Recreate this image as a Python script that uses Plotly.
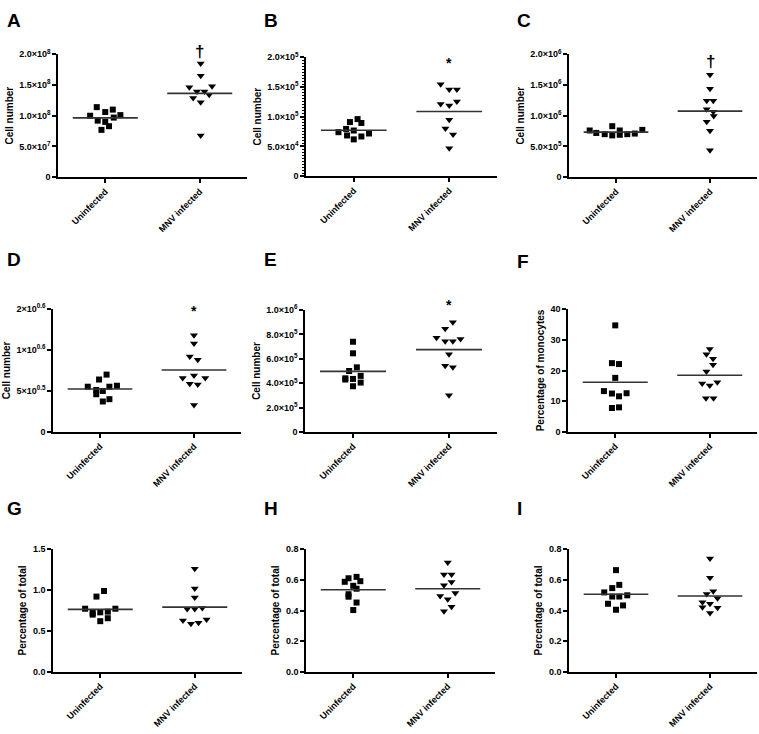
import plotly.graph_objects as go

W, H = 759, 734

# ---------------- data ----------------
categories = ["Uninfected", "MNV infected"]

A_uninf = [1.14e8, 1.10e8, 1.00e8, 1.06e8, 1.01e8, 0.97e8, 0.92e8, 0.90e8, 0.83e8, 0.77e8]
A_mnv = [1.85e8, 1.65e8, 1.465e8, 1.48e8, 1.395e8, 1.395e8, 1.34e8, 1.29e8, 1.22e8, 0.68e8]
A_uninf_dx = [-0.09, 0.08, -0.16, 0.0, 0.16, 0.09, -0.08, 0.0, 0.04, -0.04]
A_mnv_dx = [0.01, 0.01, -0.11, 0.13, -0.03, 0.05, 0.10, -0.07, 0.01, 0.01]
A_means = [0.966e8, 1.365e8]

B_uninf = [0.96e5, 0.91e5, 0.895e5, 0.795e5, 0.768e5, 0.74e5, 0.718e5, 0.685e5, 0.668e5, 0.619e5]
B_mnv = [1.547e5, 1.459e5, 1.459e5, 1.215e5, 1.188e5, 1.254e5, 0.95e5, 0.80e5, 0.70e5, 0.47e5]
B_uninf_dx = [0.04, -0.04, 0.08, -0.08, 0.0, -0.16, 0.16, -0.07, 0.08, 0.0]
B_mnv_dx = [-0.09, 0.0, 0.08, -0.09, 0.0, 0.08, 0.0, -0.04, 0.04, 0.0]
B_means = [0.773e5, 1.088e5]

C_uninf = [0.76e6, 0.72e6, 0.70e6, 0.83e6, 0.68e6, 0.76e6, 0.70e6, 0.71e6, 0.69e6, 0.77e6]
C_mnv = [1.668e6, 1.438e6, 1.246e6, 1.246e6, 1.107e6, 1.064e6, 0.995e6, 0.904e6, 0.754e6, 0.438e6]
C_uninf_dx = [-0.28, -0.21, -0.12, -0.04, -0.04, 0.04, 0.12, 0.20, 0.04, 0.28]
C_mnv_dx = [0.0, 0.0, -0.035, 0.035, -0.035, 0.035, 0.04, -0.035, 0.0, 0.0]
C_means = [0.733e6, 1.075e6]

D_uninf = [0.70, 0.64, 0.552, 0.564, 0.552, 0.512, 0.50, 0.46, 0.40, 0.372]
D_mnv = [1.18, 1.08, 0.92, 0.88, 0.66, 0.688, 0.66, 0.588, 0.58, 0.328]
D_uninf_dx = [0.07, -0.01, -0.13, 0.18, 0.10, -0.04, 0.03, -0.04, 0.10, 0.03]
D_mnv_dx = [0.0, 0.0, -0.045, 0.04, -0.12, 0.0, 0.12, -0.045, 0.04, 0.0]
D_means = [0.524, 0.756]

E_uninf = [7.4e5, 6.45e5, 5.3e5, 5.0e5, 4.4e5, 4.35e5, 4.6e5, 4.3e5, 4.05e5, 3.75e5]
E_mnv = [9.0e5, 8.47e5, 7.72e5, 7.45e5, 7.45e5, 7.63e5, 6.37e5, 5.43e5, 5.3e5, 3.01e5]
E_uninf_dx = [0.0, 0.0, 0.04, -0.04, -0.08, 0.0, 0.08, -0.08, 0.08, 0.0]
E_mnv_dx = [0.04, -0.04, -0.13, -0.04, 0.04, 0.12, 0.0, -0.04, 0.04, 0.0]
E_means = [4.97e5, 6.75e5]

F_uninf = [34.7, 22.4, 22.1, 17.6, 13.3, 12.5, 12.6, 11.6, 7.8, 8.0]
F_mnv = [27.0, 25.3, 23.8, 21.9, 19.7, 15.8, 15.1, 16.2, 11.0, 11.0]
F_uninf_dx = [0.0, -0.035, 0.04, 0.0, -0.12, -0.035, 0.12, 0.04, -0.035, 0.04]
F_mnv_dx = [0.0, -0.035, 0.035, 0.035, -0.035, -0.08, 0.0, 0.08, -0.04, 0.04]
F_means = [16.2, 18.45]

G_uninf = [0.988, 0.92, 0.772, 0.772, 0.72, 0.728, 0.736, 0.70, 0.656, 0.62]
G_mnv = [1.26, 1.02, 0.908, 0.768, 0.768, 0.78, 0.628, 0.588, 0.60, 0.64]
G_uninf_dx = [0.04, -0.04, -0.16, 0.16, -0.08, 0.0, 0.08, -0.08, 0.08, 0.0]
G_mnv_dx = [0.0, 0.0, 0.0, -0.08, 0.0, 0.08, -0.125, -0.04, 0.04, 0.125]
G_means = [0.764, 0.792]

H_uninf = [0.61, 0.619, 0.587, 0.591, 0.561, 0.542, 0.506, 0.49, 0.452, 0.403]
H_mnv = [0.712, 0.634, 0.634, 0.565, 0.585, 0.495, 0.514, 0.474, 0.395, 0.424]
H_uninf_dx = [-0.05, 0.035, -0.09, 0.075, 0.0, 0.035, -0.05, -0.05, 0.035, 0.0]
H_mnv_dx = [0.0, -0.04, 0.04, -0.04, 0.04, -0.08, 0.08, 0.0, -0.04, 0.04]
H_means = [0.535, 0.542]

I_uninf = [0.663, 0.567, 0.546, 0.518, 0.491, 0.491, 0.499, 0.444, 0.433, 0.405]
I_mnv = [0.738, 0.614, 0.525, 0.508, 0.48, 0.454, 0.444, 0.422, 0.418, 0.384]
I_uninf_dx = [0.0, 0.035, -0.04, -0.125, -0.04, 0.035, 0.12, -0.085, 0.075, 0.0]
I_mnv_dx = [0.0, 0.0, 0.035, -0.035, 0.08, -0.08, 0.0, -0.08, 0.08, 0.0]
I_means = [0.506, 0.495]

# y-axis ticks
A_ticks = [0, 5e7, 1e8, 1.5e8, 2e8]
A_ticktext = ["0", "5.0×10<sup>7</sup>", "1.0×10<sup>8</sup>", "1.5×10<sup>8</sup>", "2.0×10<sup>8</sup>"]
B_ticks = [0, 5e4, 1e5, 1.5e5, 2e5]
B_ticktext = ["0", "5.0×10<sup>4</sup>", "1.0×10<sup>5</sup>", "1.5×10<sup>5</sup>", "2.0×10<sup>5</sup>"]
C_ticks = [0, 5e5, 1e6, 1.5e6, 2e6]
C_ticktext = ["0", "5.0×10<sup>5</sup>", "1.0×10<sup>6</sup>", "1.5×10<sup>6</sup>", "2.0×10<sup>6</sup>"]
D_ticks = [0, 0.5, 1.0, 1.5]
D_ticktext = ["0", "5×10<sup>0.5</sup>", "1×10<sup>0.6</sup>", "2×10<sup>0.6</sup>"]
E_ticks = [0, 2e5, 4e5, 6e5, 8e5, 1e6]
E_ticktext = ["0", "2.0×10<sup>5</sup>", "4.0×10<sup>5</sup>", "6.0×10<sup>5</sup>", "8.0×10<sup>5</sup>", "1.0×10<sup>6</sup>"]
F_ticks = [0, 10, 20, 30, 40]
F_ticktext = ["0", "10", "20", "30", "40"]
G_ticks = [0, 0.5, 1.0, 1.5]
G_ticktext = ["0.0", "0.5", "1.0", "1.5"]
H_ticks = [0, 0.2, 0.4, 0.6, 0.8]
H_ticktext = ["0.0", "0.2", "0.4", "0.6", "0.8"]
I_ticks = H_ticks
I_ticktext = H_ticktext

titles = ["Cell number"] * 5 + ["Percentage of monocytes"] + ["Percentage of total"] * 3
letters = ["A", "B", "C", "D", "E", "F", "G", "H", "I"]
signif = {"A": "†", "B": "*", "C": "†", "D": "*", "E": "*"}

panels = [
    (A_uninf, A_mnv, A_uninf_dx, A_mnv_dx, A_means, A_ticks, A_ticktext),
    (B_uninf, B_mnv, B_uninf_dx, B_mnv_dx, B_means, B_ticks, B_ticktext),
    (C_uninf, C_mnv, C_uninf_dx, C_mnv_dx, C_means, C_ticks, C_ticktext),
    (D_uninf, D_mnv, D_uninf_dx, D_mnv_dx, D_means, D_ticks, D_ticktext),
    (E_uninf, E_mnv, E_uninf_dx, E_mnv_dx, E_means, E_ticks, E_ticktext),
    (F_uninf, F_mnv, F_uninf_dx, F_mnv_dx, F_means, F_ticks, F_ticktext),
    (G_uninf, G_mnv, G_uninf_dx, G_mnv_dx, G_means, G_ticks, G_ticktext),
    (H_uninf, H_mnv, H_uninf_dx, H_mnv_dx, H_means, H_ticks, H_ticktext),
    (I_uninf, I_mnv, I_uninf_dx, I_mnv_dx, I_means, I_ticks, I_ticktext),
]

# ---------------- layout (page-pixel boxes of plot areas) ----------------
boxes = [
    (58, 247, 48, 173), (306, 497, 51, 172), (569, 757, 48, 173),
    (53, 241, 307, 432), (305, 497, 308, 432), (568, 757, 307, 432),
    (53, 242, 551, 676), (306, 495, 551, 676), (569, 757, 551, 676),
]
letter_pos = [(5, 14), (262, 14), (515, 14), (5, 257), (262, 257), (515, 259),
              (5, 510), (262, 510), (515, 510)]
signif_pos = {"A": 1.024, "B": 0.955, "C": 0.944, "D": 0.985, "E": 1.04}


def px(x):
    return max(0.0, min(1.0, x / W))


def py(y):
    return max(0.0, min(1.0, 1 - y / H))


FONT = "Liberation Sans, Arial, sans-serif"
fig = go.Figure()
annotations = []
layout = {}

for i, (unf, mnv, udx, mdx, means, tv, tt) in enumerate(panels):
    n = i + 1
    xa = "x" if n == 1 else f"x{n}"
    ya = "y" if n == 1 else f"y{n}"
    x0, x1, y0, y1 = boxes[i]
    fig.add_trace(go.Scatter(
        x=[0 + d for d in udx], y=unf, mode="markers", xaxis=xa, yaxis=ya,
        marker=dict(symbol="square", size=6, color="black"),
        showlegend=False, cliponaxis=False))
    fig.add_trace(go.Scatter(
        x=[1 + d for d in mdx], y=mnv, mode="markers", xaxis=xa, yaxis=ya,
        marker=dict(symbol="triangle-down", size=7, color="black"),
        showlegend=False, cliponaxis=False))
    for c, m in enumerate(means):
        fig.add_trace(go.Scatter(
            x=[c - 0.344, c + 0.344], y=[m, m], mode="lines", xaxis=xa, yaxis=ya,
            line=dict(color="#333333", width=1.6), showlegend=False, hoverinfo="skip"))
    axfont = dict(family=FONT, size=9, color="black", weight="bold")
    layout["xaxis" if n == 1 else f"xaxis{n}"] = dict(
        domain=[px(x0), px(x1)], anchor=ya, range=[-0.5, 1.5],
        tickvals=[0, 1], ticktext=categories, tickangle=-45,
        ticks="outside", ticklen=4, tickwidth=1.5, tickcolor="black",
        showline=True, linecolor="black", linewidth=1.5,
        showgrid=False, zeroline=False, tickfont=axfont, fixedrange=True)
    ydict = dict(
        domain=[py(y1), py(y0)], anchor=xa, range=[0, tv[-1] * 1.0008],
        tickvals=tv, ticktext=tt, ticks="outside", ticklen=4, tickwidth=1.5,
        tickcolor="black", showline=True, linecolor="black", linewidth=1.5,
        showgrid=False, zeroline=False, tickfont=axfont,
        title=dict(text=titles[i], font=dict(family=FONT, size=10, color="black", weight="bold"),
                   standoff=4),
        fixedrange=True)
    if letters[i] == "B":
        ydict["minor"] = dict(dtick=5000, ticks="outside", ticklen=2, tickwidth=1, tickcolor="black")
    layout["yaxis" if n == 1 else f"yaxis{n}"] = ydict
    lx, ly = letter_pos[i]
    annotations.append(dict(
        text=letters[i], xref="paper", yref="paper", x=px(lx), y=py(ly),
        xanchor="left", yanchor="middle", showarrow=False,
        font=dict(family=FONT, size=19, color="black", weight="bold")))
    if letters[i] in signif:
        sym = signif[letters[i]]
        annotations.append(dict(
            text=sym, xref=xa, yref=f"{ya} domain", x=1, y=signif_pos[letters[i]],
            xanchor="center", yanchor="middle", showarrow=False,
            font=dict(family=FONT, size=17 if sym == "†" else 14, color="black", weight="bold")))

fig.update_layout(
    width=W, height=H, margin=dict(l=0, r=0, t=0, b=0),
    paper_bgcolor="white", plot_bgcolor="white",
    annotations=annotations, **layout)

fig.write_html(
    "out.html",
    config={"displayModeBar": False},
    post_script="document.body.style.margin='0';document.body.style.overflow='hidden';",
)
